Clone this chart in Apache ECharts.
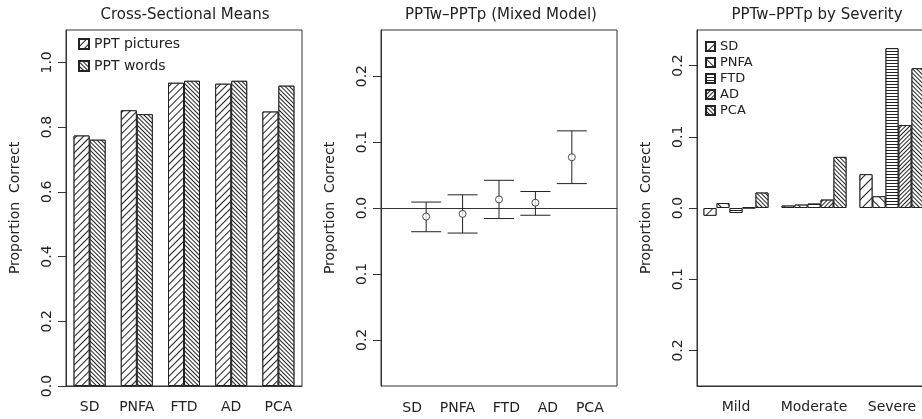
<!DOCTYPE html>
<html>
<head>
<meta charset="utf-8">
<script src="https://cdn.jsdelivr.net/npm/echarts@6/dist/echarts.min.js"></script>
<style>
  html, body { margin: 0; padding: 0; background: #fff; overflow: hidden; }
  /* the third panel runs past the right edge of the picture, like the original */
  #chart { width: 940px; height: 419px; }
</style>
</head>
<body>
<div id="chart"></div>
<script>
// panel 1: cross-sectional means
const groups = ['SD', 'PNFA', 'FTD', 'AD', 'PCA'];
const pptPictures = [0.774, 0.852, 0.937, 0.934, 0.848];
const pptWords = [0.761, 0.840, 0.943, 0.943, 0.928];
const meanTicks = [0, 0.2, 0.4, 0.6, 0.8, 1.0];

// panel 2: mixed model differences (estimate, lower, upper)
const diffEst = [-0.013, -0.009, 0.013, 0.008, 0.077];
const diffLow = [-0.036, -0.038, -0.016, -0.011, 0.037];
const diffHigh = [0.009, 0.020, 0.042, 0.025, 0.117];
const diffTicks = [-0.2, -0.1, 0, 0.1, 0.2];

// panel 3: differences by severity
const severity = ['Mild', 'Moderate', 'Severe'];
const sevSD = [-0.011, 0.0034, 0.0475];
const sevPNFA = [0.007, 0.0048, 0.0165];
const sevFTD = [-0.007, 0.0062, 0.2245];
const sevAD = [0.0005, 0.0118, 0.1165];
const sevPCA = [0.0217, 0.0718, 0.1963];

const FONT = 'DejaVu Sans';
const INK = '#222';

function hatch(rot, gap) {
  return {
    symbol: 'rect', symbolSize: 1,
    dashArrayX: [1, 0], dashArrayY: [1, gap],
    rotation: rot, color: INK, backgroundColor: '#fff'
  };
}
const SLASH = -Math.PI / 4;
const BACK = Math.PI / 4;

function yAxisFor(gridIndex, min, max, ticks, abs) {
  return {
    type: 'value', gridIndex: gridIndex, min: min, max: max,
    name: 'Proportion  Correct', nameLocation: 'middle', nameGap: 44,
    nameTextStyle: { fontFamily: FONT, fontSize: 14, color: INK },
    axisLine: { show: true, onZero: false, lineStyle: { color: '#333' } },
    axisTick: { show: true, length: 8, customValues: ticks, lineStyle: { color: '#333' } },
    axisLabel: {
      customValues: ticks, rotate: 90, margin: 12,
      fontFamily: FONT, fontSize: 14, color: INK,
      formatter: v => (abs ? Math.abs(v) : v).toFixed(1)
    },
    splitLine: { show: false }
  };
}

function barSeries(name, data, axis, width, decal) {
  return {
    type: 'bar', name: name, data: data,
    xAxisIndex: axis, yAxisIndex: axis,
    barWidth: width, barGap: '0%',
    itemStyle: { color: '#fff', borderColor: INK, borderWidth: 1, decal: decal },
    emphasis: { disabled: true }
  };
}

function title(text, x, y, size) {
  return {
    type: 'text', x: x, y: y,
    style: { text: text, font: size + 'px "DejaVu Sans"', fill: INK, textAlign: 'center', textVerticalAlign: 'middle' }
  };
}

const chart = echarts.init(document.getElementById('chart'));
chart.setOption({
  animation: false,
  textStyle: { fontFamily: FONT },
  graphic: [
    title('Cross-Sectional Means', 185, 15, 15),
    title('PPTw\u2013PPTp (Mixed Model)', 501, 15, 15),
    title('PPTw\u2013PPTp by Severity', 817, 15, 15),
    title(groups.join('    '), 503, 408, 14)
  ],
  legend: [
    {
      data: ['PPT pictures', 'PPT words'],
      left: 73, top: 32, orient: 'vertical',
      itemWidth: 10, itemHeight: 10, itemGap: 8, icon: 'rect',
      textStyle: { fontFamily: FONT, fontSize: 14, color: INK }
    },
    {
      data: groups,
      left: 700, top: 35, orient: 'vertical',
      itemWidth: 9, itemHeight: 9, itemGap: 3, icon: 'rect',
      textStyle: { fontFamily: FONT, fontSize: 13, color: INK }
    }
  ],
  grid: [
    { left: 66, top: 30, width: 236, height: 356, show: true, borderColor: '#333', borderWidth: 1 },
    { left: 381, top: 30, width: 236, height: 356, show: true, borderColor: '#333', borderWidth: 1 },
    { left: 697, top: 30, width: 234, height: 356, show: true, borderColor: '#333', borderWidth: 1 }
  ],
  xAxis: [
    {
      type: 'category', gridIndex: 0, data: groups,
      axisLine: { lineStyle: { color: '#333' } },
      axisTick: { alignWithLabel: true, length: 7, lineStyle: { color: '#333' } },
      axisLabel: { interval: 0, margin: 14, fontFamily: FONT, fontSize: 14, color: INK }
    },
    {
      type: 'value', gridIndex: 1, min: -0.24, max: 6.24,
      axisLine: { onZero: true, lineStyle: { color: '#333' } },
      axisTick: { show: false }, axisLabel: { show: false }, splitLine: { show: false }
    },
    {
      type: 'category', gridIndex: 2, data: severity,
      axisLine: { onZero: false, lineStyle: { color: '#333' } },
      axisTick: { alignWithLabel: true, length: 7, lineStyle: { color: '#333' } },
      axisLabel: { interval: 0, margin: 14, fontFamily: FONT, fontSize: 14, color: INK }
    }
  ],
  yAxis: [
    yAxisFor(0, 0, 1.1, meanTicks, false),
    yAxisFor(1, -0.27, 0.27, diffTicks, true),
    yAxisFor(2, -0.25, 0.25, diffTicks, true)
  ],
  series: [
    barSeries('PPT pictures', pptPictures, 0, 16, hatch(SLASH, 4)),
    barSeries('PPT words', pptWords, 0, 16, hatch(BACK, 1.6)),
    {
      type: 'custom', xAxisIndex: 1, yAxisIndex: 1,
      data: groups.map((g, i) => [i + 1, diffLow[i], diffHigh[i]]),
      renderItem: function (params, api) {
        const lo = api.coord([api.value(0), api.value(1)]);
        const hi = api.coord([api.value(0), api.value(2)]);
        const st = { stroke: INK, lineWidth: 1 };
        return {
          type: 'group',
          children: [
            { type: 'line', shape: { x1: lo[0], y1: lo[1], x2: hi[0], y2: hi[1] }, style: st },
            { type: 'line', shape: { x1: lo[0] - 15, y1: lo[1], x2: lo[0] + 15, y2: lo[1] }, style: st },
            { type: 'line', shape: { x1: hi[0] - 15, y1: hi[1], x2: hi[0] + 15, y2: hi[1] }, style: st }
          ]
        };
      }
    },
    {
      type: 'scatter', xAxisIndex: 1, yAxisIndex: 1,
      data: groups.map((g, i) => [i + 1, diffEst[i]]),
      symbol: 'circle', symbolSize: 7,
      itemStyle: { color: '#fff', borderColor: INK, borderWidth: 1 },
      emphasis: { disabled: true }, z: 3
    },
    barSeries('SD', sevSD, 2, 13, hatch(SLASH, 6)),
    barSeries('PNFA', sevPNFA, 2, 13, hatch(BACK, 6)),
    barSeries('FTD', sevFTD, 2, 13, hatch(0, 2)),
    barSeries('AD', sevAD, 2, 13, hatch(SLASH, 1.6)),
    barSeries('PCA', sevPCA, 2, 13, hatch(BACK, 1.6))
  ]
});
</script>
</body>
</html>
